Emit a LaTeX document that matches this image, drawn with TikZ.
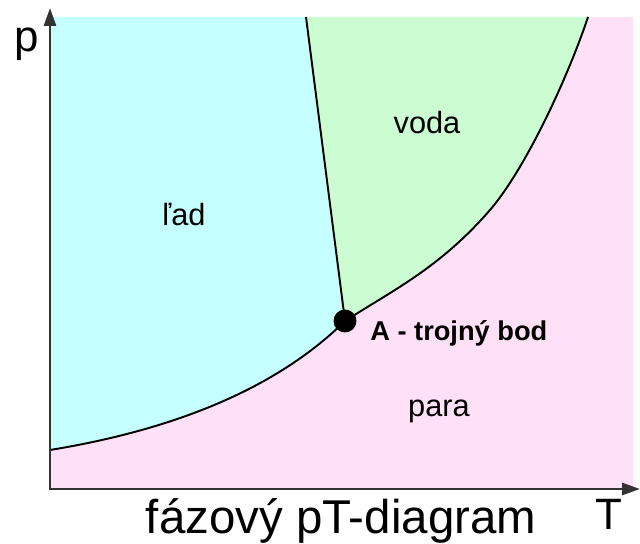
\documentclass[tikz,border=0pt]{standalone}
\usepackage{fontspec}
\setmainfont{Liberation Sans}
\usetikzlibrary{arrows.meta}

\begin{document}
\begin{tikzpicture}[x=0.02cm, y=-0.02cm]
    \definecolor{iceColour}{HTML}{C6FFFF}
    \definecolor{waterColour}{HTML}{CCFCD2}
    \definecolor{vapourColour}{HTML}{FFE1F7}
    \definecolor{axisColour}{HTML}{333333}

    \tikzset{
        axisLabel/.style={font=\fontsize{25}{30}\selectfont, anchor=base, inner sep=0pt},
        phaseLabel/.style={font=\fontsize{17.5}{20}\selectfont, anchor=base, inner sep=0pt},
        pointLabel/.style={font=\fontsize{15.5}{18}\selectfont\bfseries, anchor=base west, inner sep=0pt},
        curveLine/.style={draw=black, line width=1.1pt}
    }

    \useasboundingbox (0,0) rectangle (640,544);

    % Corners of the diagram
    \coordinate (origin) at (50,489);
    \coordinate (topLeft) at (50,17);
    \coordinate (bottomRight) at (633,489);
    \coordinate (pEnd) at (50,8);
    \coordinate (TEnd) at (640,489);

    % Triple point and ends of the curves
    \coordinate (A) at (345,321);
    \coordinate (subLeft) at (50,450);
    \coordinate (vapMid) at (490,210);
    \coordinate (meltTop) at (306,17);
    \coordinate (vapTop) at (588,17);

    % Fill phases: para, lad, voda
    \fill[vapourColour] (topLeft) rectangle (bottomRight);
    \fill[iceColour] (topLeft) -- (meltTop) -- (A)
        .. controls (270,395) and (160,432) .. (subLeft) -- cycle;
    \fill[waterColour] (meltTop) -- (vapTop)
        .. controls (568,77) and (526,168) .. (vapMid)
        .. controls (440,267.5) and (395,289) .. (A) -- cycle;

    % Draw phase boundaries
    \draw[curveLine] (subLeft) .. controls (160,432) and (270,395) .. (A);
    \draw[curveLine] (A) .. controls (395,289) and (440,267.5) .. (vapMid)
        .. controls (526,168) and (568,77) .. (vapTop);
    \draw[curveLine] (meltTop) -- (A);

    % Draw axes
    \draw[axisColour, line width=1.7pt, {Triangle[length=0.36cm,width=0.24cm]}-{Triangle[length=0.36cm,width=0.24cm]}]
        (pEnd) -- (origin) -- (TEnd);

    % Mark triple point
    \node[circle, fill=black, inner sep=0pt, minimum size=0.46cm] (triple) at (A) {};
    \node[pointLabel] (tripleLabel) at (370,340) {A - trojný bod};

    % Label phases
    \node[phaseLabel] (ice) at (184,226) {ľad};
    \node[phaseLabel] (water) at (427,134) {voda};
    \node[phaseLabel] (vapour) at (439,417) {para};

    % Label axes
    \node[axisLabel] (pLabel) at (27,52) {p};
    \node[axisLabel] (TLabel) at (609,529) {T};
    \node[axisLabel, font=\fontsize{27}{30}\selectfont] (title) at (341,533) {fázový pT-diagram};

\end{tikzpicture}
\end{document}
